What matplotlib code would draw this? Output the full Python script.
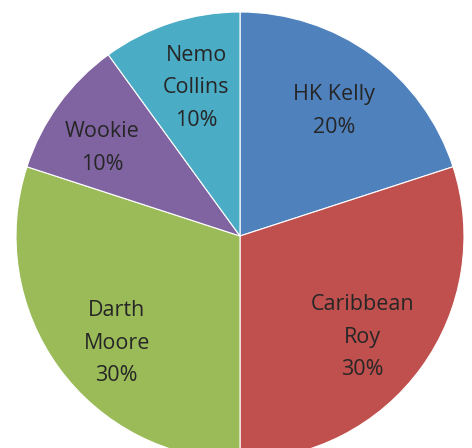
import numpy as np
import matplotlib
matplotlib.use("Agg")
import matplotlib.pyplot as plt

# data
names = ["HK Kelly", "Caribbean\nRoy", "Darth\nMoore", "Wookie", "Nemo\nCollins"]
shares = [20, 30, 30, 10, 10]
colors = ["#4F81BD", "#C0504D", "#9BBB59", "#8064A2", "#4BACC6"]

# small angle nudges (deg) so the labels sit like the Excel ones
label_shift = [-1, -3.5, 5, 3.5, -1.5]
label_r = [0.70, 0.71, 0.73, 0.73, 0.69]

fig = plt.figure(figsize=(4.72, 4.48), dpi=100)
ax = fig.add_axes([16 / 472, -12 / 448, 448 / 472, 448 / 448])

wedges, _ = ax.pie(shares, colors=colors, startangle=90, counterclock=False,
                   radius=1.0, wedgeprops=dict(edgecolor="white", linewidth=0.8))

# labels inside each slice (name + percent)
for w, name, s, da, r in zip(wedges, names, shares, label_shift, label_r):
    mid = np.deg2rad((w.theta1 + w.theta2) / 2 + da)
    ax.text(r * np.cos(mid), r * np.sin(mid), f"{name}\n{s}%",
            ha="center", va="center", fontsize=15.5, color="#262626",
            family="Open Sans", linespacing=1.72)

ax.set_xlim(-1, 1)
ax.set_ylim(-1, 1)
ax.set_aspect("equal")
ax.axis("off")

plt.savefig("out.png", dpi=100)
plt.close()
